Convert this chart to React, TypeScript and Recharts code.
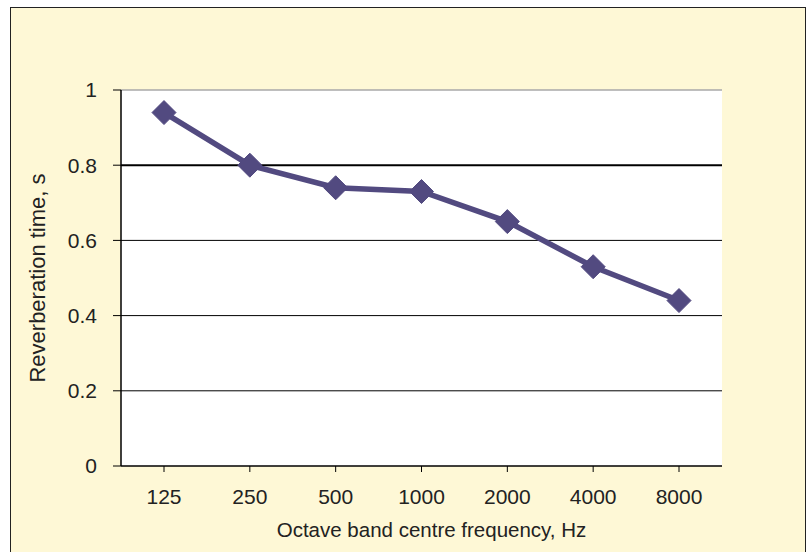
import { LineChart, Line, XAxis, YAxis, CartesianGrid, ReferenceLine, Label } from 'recharts';

const frequencies = ['125', '250', '500', '1000', '2000', '4000', '8000'];
const reverbTimes = [0.94, 0.8, 0.74, 0.73, 0.65, 0.53, 0.44];
const yTicks = [0, 0.2, 0.4, 0.6, 0.8, 1];
const gridValues = [0.2, 0.4, 0.6, 0.8];

const data = frequencies.map((f, i) => ({ freq: f, rt: reverbTimes[i] }));

const lineColor = '#524a80';
const font = '"Liberation Sans", Arial, sans-serif';

function Diamond(props: any) {
  const { cx, cy } = props;
  if (cx == null || cy == null) return null;
  const r = 12;
  return (
    <polygon
      points={`${cx},${cy - r} ${cx + r},${cy} ${cx},${cy + r} ${cx - r},${cy}`}
      fill={lineColor}
      stroke={lineColor}
      strokeWidth={1}
      strokeLinejoin="round"
    />
  );
}

export default function App() {
  return (
    <div style={{ position: 'absolute', left: 0, top: 0, width: 812, height: 552, background: '#fff', overflow: 'hidden', fontFamily: font }}>
      <div
        style={{
          position: 'absolute',
          left: 10,
          top: 7,
          width: 794,
          height: 560,
          background: '#fef8d6',
          border: '1.5px solid #222',
        }}
      />
      <div style={{ position: 'absolute', left: 0, top: 0 }}>
        <LineChart width={812} height={552} data={data} margin={{ top: 90, right: 90, left: 0, bottom: 56 }}>
          <CartesianGrid horizontal={false} vertical={false} fill="#ffffff" stroke="none" />
          {gridValues.map((v) => (
            <ReferenceLine key={v} y={v} yAxisId="left" stroke="#000" strokeWidth={v === 0.8 ? 2 : 1} />
          ))}
          <ReferenceLine y={1} yAxisId="left" stroke="#a8a8a8" strokeWidth={1.5} />
          <XAxis
            dataKey="freq"
            height={30}
            padding={{ left: 43, right: 43 }}
            axisLine={{ stroke: '#000', strokeWidth: 1.5 }}
            tickLine={{ stroke: '#000' }}
            tickSize={6}
            tick={{ fill: '#222', fontSize: 21, fontFamily: font, dy: 15 }}
          >
            <Label
              value="Octave band centre frequency, Hz"
              position="insideBottom"
              offset={-41}
              dx={10}
              style={{ fill: '#222', fontSize: 20.5, fontFamily: font }}
            />
          </XAxis>
          <YAxis
            yAxisId="left"
            width={121}
            domain={[0, 1]}
            ticks={yTicks}
            tickFormatter={(v: number) => String(v)}
            axisLine={{ stroke: '#000', strokeWidth: 1.5 }}
            tickLine={{ stroke: '#000' }}
            tickSize={8}
            tick={{ fill: '#222', fontSize: 21, fontFamily: font, dx: -14 }}
          >
            <Label
              value="Reverberation time, s"
              angle={-90}
              position="insideLeft"
              offset={37}
              style={{ fill: '#222', fontSize: 22, fontFamily: font, textAnchor: 'middle' }}
            />
          </YAxis>
          <YAxis
            yAxisId="right"
            orientation="right"
            width={0}
            domain={[0, 1]}
            tick={false}
            tickLine={false}
            axisLine={{ stroke: '#a8a8a8', strokeWidth: 1.5 }}
          />
          <Line
            yAxisId="left"
            type="linear"
            dataKey="rt"
            stroke={lineColor}
            strokeWidth={5.5}
            dot={<Diamond />}
            activeDot={false}
            isAnimationActive={false}
          />
        </LineChart>
      </div>
    </div>
  );
}
